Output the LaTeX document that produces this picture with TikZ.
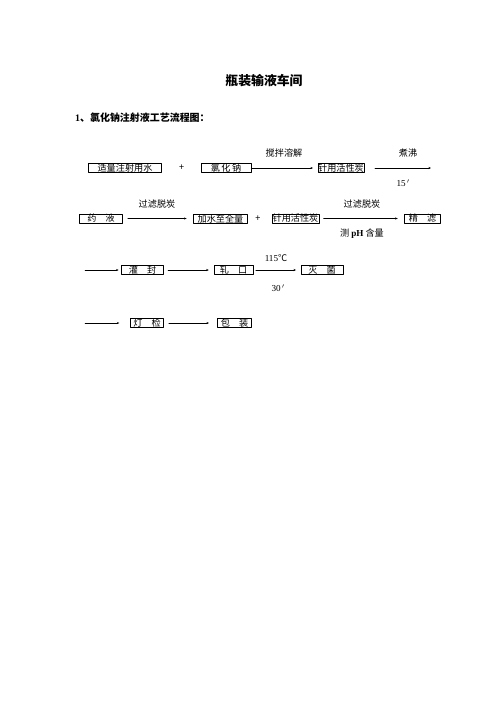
\documentclass[tikz,border=0pt]{standalone}
\usepackage{fontspec}
\setmainfont{Liberation Serif}
\newfontfamily\cjk{Noto Sans CJK SC}
\usetikzlibrary{arrows.meta}
\tikzset{
  box/.style={draw,line width=0.6pt,inner sep=0pt,minimum height=11,font=\cjk\fontsize{11}{13}\selectfont},
  lbl/.style={inner sep=0pt,font=\cjk\fontsize{11}{13}\selectfont},
  flow/.style={-{Stealth[length=3pt,width=2.4pt]},line width=0.5pt}
}
\begin{document}
\begin{tikzpicture}[line cap=round,line join=round,x=1.2bp,y=-1.2bp]
\useasboundingbox[fill=white] (0,0) rectangle (496,702);
% titles
\node[inner sep=0pt,font=\cjk\bfseries\fontsize{15.5}{18}\selectfont] (title) at (264,81) {瓶装输液车间};
\node[inner sep=0pt,anchor=west,font=\cjk\bfseries\fontsize{12}{14}\selectfont] (sub) at (75,118) {{\rmfamily 1}、氯化钠注射液工艺流程图：};
% row 1
\node[box,minimum width=88] (water) at (125,168) {适量注射用水};
\node[lbl] (plusa) at (181.7,168) {+};
\node[box,minimum width=60] (nacl) at (226,168) {氯\,化\,钠};
\node[box,minimum width=54] (carbona) at (341,168) {针用活性炭};
\coordinate (boil) at (431,168);
\draw[flow] (nacl.east) -- ([xshift=-6]carbona.west);
\draw[flow] ([xshift=13]carbona.east) -- (boil);
\node[lbl] (stir) at (284,153) {搅拌溶解};
\node[lbl] (boiltxt) at (408,153) {煮沸};
\node[lbl,font=\fontsize{11}{13}\selectfont] (mina) at (403,183) {15\,$'$};
% row 2
\node[box,minimum width=52] (yao) at (101,218.5) {药\hspace{1em}液};
\node[box,minimum width=65] (addw) at (220.5,218.5) {加水至全量};
\node[lbl] (plusb) at (258,218.5) {+};
\node[box,minimum width=57] (carbonb) at (295.5,218.5) {针用活性炭};
\node[box,minimum width=43] (fine) at (422.5,218.5) {精\hspace{1em}滤};
\draw[flow] ([xshift=6]yao.east) -- ([xshift=-8]addw.west);
\draw[flow] ([xshift=5]carbonb.east) -- ([xshift=-8]fine.west);
\node[lbl] (filta) at (157,204) {过滤脱炭};
\node[lbl] (filtb) at (362,204) {过滤脱炭};
\node[lbl] (ph) at (362,234) {测 {\rmfamily\bfseries pH} 含量};
% row 3
\coordinate (rowc) at (85,270);
\node[box,minimum width=51] (seal) at (142.5,270) {灌\hspace{1em}封};
\node[box,minimum width=47] (crimp) at (233.5,270) {轧\hspace{1em}口};
\node[box,minimum width=50] (steril) at (322,270) {灭\hspace{1em}菌};
\draw[flow] (rowc) -- ([xshift=-3]seal.west);
\draw[flow] ([xshift=5]seal.east) -- ([xshift=-6]crimp.west);
\draw[flow] ([xshift=3]crimp.east) -- ([xshift=-6]steril.west);
\node[lbl,font=\fontsize{11}{13}\selectfont] (temp) at (276,258) {115{\cjk ℃}};
\node[lbl,font=\fontsize{11}{13}\selectfont] (minb) at (278,288) {30\,$'$};
% row 4
\coordinate (rowd) at (85,323);
\node[box,minimum width=40] (lamp) at (147,323) {灯\hspace{1em}检};
\node[box,minimum width=41] (pack) at (234.5,323) {包\hspace{1em}装};
\draw[flow] (rowd) -- ([xshift=-13]lamp.west);
\draw[flow] ([xshift=6]lamp.east) -- ([xshift=-10]pack.west);
\end{tikzpicture}
\end{document}
